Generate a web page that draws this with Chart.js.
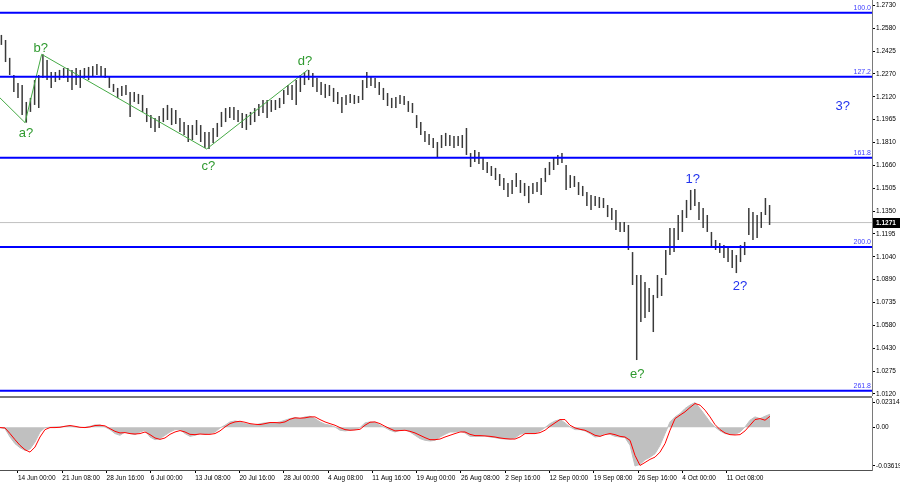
<!DOCTYPE html>
<html>
<head>
<meta charset="utf-8">
<script src="https://cdn.jsdelivr.net/npm/chart.js@4.4.1/dist/chart.umd.min.js"></script>
<style>
  body { margin: 0; background: #fff; }
  #wrap { position: relative; width: 900px; height: 485px; overflow: hidden; background: #fff; }
  #priceCanvas { position: absolute; left: 0; top: 0; }
  #oscCanvas { position: absolute; left: 0; top: 396px; }
</style>
</head>
<body>
<div id="wrap">
  <canvas id="priceCanvas" width="900" height="396"></canvas>
  <canvas id="oscCanvas" width="900" height="89"></canvas>
</div>
<script>
// GBP/USD H4 - wave count chart with oscillator pane

const FONT = "'Liberation Sans', Arial, sans-serif";

// axis labels
const priceTickLabels = ['1.2730', '1.2580', '1.2425', '1.2270', '1.2120', '1.1965', '1.1810', '1.1660', '1.1505',
    '1.1350', '1.1195', '1.1040', '1.0890', '1.0735', '1.0580', '1.0430', '1.0275', '1.0120'];
const dateLabels = ['14 Jun 00:00', '21 Jun 08:00', '28 Jun 16:00', '6 Jul 00:00', '13 Jul 08:00', '20 Jul 16:00',
    '28 Jul 00:00', '4 Aug 08:00', '11 Aug 16:00', '19 Aug 00:00', '26 Aug 08:00', '2 Sep 16:00', '12 Sep 00:00',
    '19 Sep 08:00', '26 Sep 16:00', '4 Oct 00:00', '11 Oct 08:00'];
const oscTickValues = [0.02314, 0, -0.03619];
const oscTickLabels = ['0.02314', '0.00', '-0.03619'];

// price bars (each drawn bar = 3 H4 bars): high / low
const candleHigh = [
    1.2531, 1.2497, 1.2377, 1.2262, 1.2208, 1.2195, 1.2081, 1.2108, 1.2228, 1.2262,
    1.2401, 1.2363, 1.2282, 1.2282, 1.2296, 1.2309, 1.2309, 1.2296, 1.2309, 1.2296,
    1.2309, 1.2316, 1.2322, 1.2336, 1.2322, 1.2309, 1.2249, 1.2202, 1.2175, 1.2188,
    1.2195, 1.2148, 1.2148, 1.2135, 1.2128, 1.2040, 1.1993, 1.1973, 1.1987, 1.2040,
    1.2061, 1.2040, 1.2027, 1.1973, 1.1946, 1.1926, 1.1926, 1.1960, 1.1926, 1.1879,
    1.1879, 1.1906, 1.1940, 1.2014, 1.2040, 1.2047, 1.2047, 1.2027, 1.2007, 1.2000,
    1.2014, 1.2040, 1.2067, 1.2094, 1.2094, 1.2094, 1.2094, 1.2108, 1.2161, 1.2195,
    1.2195, 1.2228, 1.2262, 1.2282, 1.2296, 1.2275, 1.2242, 1.2215, 1.2202, 1.2195,
    1.2175, 1.2148, 1.2114, 1.2128, 1.2135, 1.2128, 1.2121, 1.2228, 1.2282, 1.2255,
    1.2242, 1.2215, 1.2175, 1.2141, 1.2108, 1.2114, 1.2128, 1.2121, 1.2087, 1.2074,
    1.1993, 1.1946, 1.1886, 1.1866, 1.1839, 1.1812, 1.1859, 1.1873, 1.1859, 1.1852,
    1.1852, 1.1859, 1.1906, 1.1738, 1.1758, 1.1745, 1.1705, 1.1678, 1.1651, 1.1638,
    1.1597, 1.1570, 1.1537, 1.1557, 1.1604, 1.1557, 1.1537, 1.1517, 1.1537, 1.1543,
    1.1570, 1.1638, 1.1678, 1.1705, 1.1725, 1.1738, 1.1658, 1.1590, 1.1584, 1.1543,
    1.1517, 1.1476, 1.1456, 1.1449, 1.1443, 1.1436, 1.1389, 1.1369, 1.1355, 1.1275,
    1.1275, 1.1255, 1.1073, 1.0919, 1.0919, 1.0872, 1.0832, 1.0785, 1.0919, 1.0899,
    1.1087, 1.1235, 1.1235, 1.1322, 1.1355, 1.1423, 1.1490, 1.1496, 1.1409, 1.1369,
    1.1322, 1.1208, 1.1154, 1.1134, 1.1120, 1.1107, 1.1087, 1.1053, 1.1120, 1.1141,
    1.1369, 1.1342, 1.1322, 1.1342, 1.1436, 1.1389
];
const candleLow = [
    1.2464, 1.2349, 1.2262, 1.2148, 1.2107, 1.1993, 1.1942, 1.2014, 1.2061, 1.2040,
    1.2242, 1.2228, 1.2175, 1.2215, 1.2228, 1.2242, 1.2215, 1.2161, 1.2195, 1.2175,
    1.2242, 1.2228, 1.2255, 1.2262, 1.2255, 1.2242, 1.2175, 1.2148, 1.2108, 1.2121,
    1.2128, 1.1980, 1.2081, 1.2067, 1.2014, 1.1946, 1.1906, 1.1879, 1.1906, 1.1946,
    1.1960, 1.1926, 1.1933, 1.1879, 1.1859, 1.1812, 1.1825, 1.1859, 1.1812, 1.1772,
    1.1765, 1.1805, 1.1846, 1.1913, 1.1946, 1.1973, 1.1960, 1.1946, 1.1906, 1.1893,
    1.1926, 1.1946, 1.1987, 1.2007, 1.1973, 1.2014, 1.2027, 1.2040, 1.2067, 1.2128,
    1.2094, 1.2061, 1.2148, 1.2195, 1.2228, 1.2181, 1.2148, 1.2128, 1.2108, 1.2121,
    1.2081, 1.2067, 1.2007, 1.2061, 1.2074, 1.2067, 1.2074, 1.2094, 1.2175, 1.2188,
    1.2175, 1.2128, 1.2094, 1.2054, 1.2040, 1.2040, 1.2067, 1.2061, 1.2014, 1.2007,
    1.1906, 1.1859, 1.1812, 1.1792, 1.1772, 1.1711, 1.1772, 1.1785, 1.1785, 1.1772,
    1.1785, 1.1772, 1.1725, 1.1644, 1.1678, 1.1665, 1.1624, 1.1604, 1.1584, 1.1557,
    1.1517, 1.1490, 1.1443, 1.1463, 1.1510, 1.1470, 1.1449, 1.1402, 1.1463, 1.1476,
    1.1456, 1.1543, 1.1590, 1.1624, 1.1658, 1.1671, 1.1490, 1.1503, 1.1510, 1.1456,
    1.1449, 1.1382, 1.1355, 1.1382, 1.1369, 1.1369, 1.1308, 1.1288, 1.1221, 1.1208,
    1.1208, 1.1087, 1.0852, 1.0348, 1.0603, 1.0630, 1.0671, 1.0536, 1.0764, 1.0778,
    1.0919, 1.1053, 1.1073, 1.1154, 1.1208, 1.1302, 1.1355, 1.1382, 1.1288, 1.1235,
    1.1208, 1.1107, 1.1087, 1.1067, 1.1033, 1.1006, 1.0966, 1.0932, 1.1006, 1.1053,
    1.1188, 1.1154, 1.1168, 1.1235, 1.1322, 1.1255
];

// fibonacci levels
const fibLevels = [1.2680, 1.2251, 1.1707, 1.1107, 1.0142];
const fibLabels = ['100.0', '127.2', '161.8', '200.0', '261.8'];

// green wave path (bar index / price)
const wavePathIdx = [0, 18.1, 30.1, 149.3, 222.3];
const wavePathPrice = [1.2108, 1.1942, 1.2401, 1.1765, 1.2296];

// wave tags
const waveTags = ['a?', 'b?', 'c?', 'd?', 'e?', '1?', '2?', '3?'];
const waveTagIdx = [18.8, 29.4, 150.5, 220.4, 460.4, 500.5, 534.6, 608.8];
const waveTagPrice = [1.1870, 1.2441, 1.1646, 1.2356, 1.0254, 1.1562, 1.0845, 1.2049];

const lastPrice = 1.1271;

// oscillator (sampled every OSC_STEP bars)
const oscHist = [
    -0.0003, -0.0013, -0.0091, -0.0153, -0.0191, -0.0216, -0.0203, -0.0138, -0.0044, -0.0003,
    0, 0.0003, 0.0003, 0.0009, 0.0013, 0.0003, -0.0003, 0, 0.0009, 0.0022,
    0.0022, 0.0003, -0.0022, -0.0059, -0.0075, -0.0044, -0.0059, -0.0069, -0.0044, -0.0028,
    -0.0091, -0.0116, -0.0106, -0.0075, -0.0044, -0.0022, -0.0022, -0.0059, -0.0085, -0.0075,
    -0.0059, -0.0066, -0.0059, -0.0044, -0.0006, 0.0019, 0.0050, 0.0059, 0.0050, 0.0034,
    0.0028, 0.0019, 0.0034, 0.0041, 0.0044, 0.0041, 0.0050, 0.0066, 0.0081, 0.0091,
    0.0081, 0.0097, 0.0103, 0.0081, 0.0050, 0.0028, 0.0019, 0.0003, -0.0028, -0.0034,
    -0.0028, -0.0022, -0.0003, 0.0041, 0.0050, 0.0047, 0.0019, -0.0003, -0.0028, -0.0044,
    -0.0028, -0.0022, -0.0044, -0.0075, -0.0106, -0.0122, -0.0128, -0.0122, -0.0091, -0.0066,
    -0.0044, -0.0044, -0.0034, -0.0053, -0.0085, -0.0085, -0.0085, -0.0081, -0.0091, -0.0097,
    -0.0106, -0.0110, -0.0110, -0.0100, -0.0066, -0.0053, -0.0059, -0.0053, -0.0034, -0.0003,
    0.0034, 0.0059, 0.0072, 0.0041, 0.0003, -0.0022, -0.0022, -0.0034, -0.0059, -0.0091,
    -0.0085, -0.0059, -0.0066, -0.0085, -0.0091, -0.0097, -0.0169, -0.0362, -0.0347, -0.0304,
    -0.0279, -0.0247, -0.0169, -0.0059, 0.0050, 0.0097, 0.0128, 0.0175, 0.0207, 0.0231,
    0.0175, 0.0113, 0.0050, 0.0003, -0.0034, -0.0059, -0.0066, -0.0066, -0.0044, 0.0003,
    0.0066, 0.0097, 0.0081, 0.0103, 0.0122
];
const oscSignal = [
    -0.0003, -0.0006, -0.0059, -0.0116, -0.0169, -0.0210, -0.0232, -0.0185, -0.0091, -0.0022,
    -0.0003, -0.0003, 0, 0.0009, 0.0016, 0.0009, 0, -0.0003, 0.0003, 0.0016,
    0.0019, 0.0013, -0.0013, -0.0038, -0.0053, -0.0050, -0.0059, -0.0063, -0.0059, -0.0044,
    -0.0069, -0.0100, -0.0113, -0.0100, -0.0066, -0.0044, -0.0031, -0.0044, -0.0066, -0.0069,
    -0.0063, -0.0066, -0.0066, -0.0059, -0.0034, 0.0003, 0.0034, 0.0050, 0.0056, 0.0047,
    0.0034, 0.0028, 0.0025, 0.0034, 0.0044, 0.0044, 0.0041, 0.0050, 0.0075, 0.0088,
    0.0085, 0.0088, 0.0097, 0.0097, 0.0072, 0.0050, 0.0034, 0.0019, -0.0003, -0.0022,
    -0.0028, -0.0025, -0.0019, 0.0019, 0.0047, 0.0050, 0.0034, 0.0009, -0.0013, -0.0034,
    -0.0031, -0.0028, -0.0038, -0.0053, -0.0075, -0.0097, -0.0116, -0.0116, -0.0110, -0.0091,
    -0.0075, -0.0059, -0.0044, -0.0044, -0.0066, -0.0078, -0.0078, -0.0081, -0.0085, -0.0091,
    -0.0100, -0.0106, -0.0110, -0.0110, -0.0091, -0.0059, -0.0059, -0.0059, -0.0050, -0.0028,
    0.0009, 0.0041, 0.0072, 0.0072, 0.0019, -0.0006, -0.0019, -0.0028, -0.0050, -0.0075,
    -0.0085, -0.0069, -0.0059, -0.0069, -0.0085, -0.0091, -0.0122, -0.0263, -0.0357, -0.0329,
    -0.0300, -0.0279, -0.0232, -0.0153, -0.0028, 0.0081, 0.0113, 0.0144, 0.0185, 0.0222,
    0.0207, 0.0160, 0.0097, 0.0025, -0.0022, -0.0053, -0.0069, -0.0072, -0.0069, -0.0034,
    0.0019, 0.0072, 0.0081, 0.0066, 0.0103
];

// scale setup
const BARS_ON_SCREEN = 630;
const BARS_PER_CANDLE = 3;
const BARS_PER_DATE = 32;
const FIRST_DATE_BAR = 13;
const OSC_STEP = 3.6125;
const PRICE_MIN = 1.01065, PRICE_MAX = 1.27656;
const PRICE_TICK_TOP = 1.2730, PRICE_TICK_STEP = (1.2730 - 1.0120) / 17;
const OSC_MIN = -0.03993, OSC_MAX = 0.02735;
const AXIS_WIDTH = 28;

const BLUE = '#0000ff';
const WAVE_GREEN = '#2f9a2f';
const WAVE_BLUE = '#2233ee';
const AXIS_GRAY = '#7a7a7a';

const tickFont = { family: FONT, size: 6.5 };

function rightAxis(extra) {
    return Object.assign({
        position: 'right',
        grid: { drawOnChartArea: false, drawTicks: true, tickLength: 3, color: '#000' },
        border: { display: true, color: AXIS_GRAY },
        ticks: { font: tickFont, color: '#000', padding: 1 },
        afterFit(scale) {
            scale.width = AXIS_WIDTH;
            scale.paddingTop = 0;
            scale.paddingBottom = 0;
        }
    }, extra);
}

// overlay: fib labels, wave tags, price box
const mainOverlay = {
    id: 'mainOverlay',
    afterDatasetsDraw(chart) {
        const { ctx, chartArea, scales: { x, y } } = chart;
        ctx.save();
        ctx.font = `7px ${FONT}`;
        ctx.fillStyle = '#3c3cff';
        ctx.textAlign = 'right';
        ctx.textBaseline = 'bottom';
        fibLevels.forEach((lv, i) => {
            ctx.fillText(fibLabels[i], chartArea.right - 1, y.getPixelForValue(lv) - 1);
        });
        ctx.font = `13px ${FONT}`;
        ctx.textAlign = 'center';
        ctx.textBaseline = 'middle';
        waveTags.forEach((t, i) => {
            ctx.fillStyle = /\d/.test(t) ? WAVE_BLUE : WAVE_GREEN;
            ctx.fillText(t, x.getPixelForValue(waveTagIdx[i]), y.getPixelForValue(waveTagPrice[i]));
        });
        ctx.restore();
    },
    afterDraw(chart) {
        const { ctx, chartArea, scales: { y } } = chart;
        const py = Math.round(y.getPixelForValue(lastPrice));
        ctx.save();
        ctx.fillStyle = '#000';
        ctx.fillRect(chartArea.right + 1, py - 5, AXIS_WIDTH - 1, 10);
        ctx.fillStyle = '#fff';
        ctx.font = `bold 6.5px ${FONT}`;
        ctx.textAlign = 'left';
        ctx.textBaseline = 'middle';
        ctx.fillText(lastPrice.toFixed(4), chartArea.right + 4, py + 0.5);
        ctx.restore();
    }
};

// separator line between panes
const paneSeparator = {
    id: 'paneSeparator',
    afterDraw(chart) {
        const { ctx, chartArea } = chart;
        ctx.save();
        ctx.fillStyle = AXIS_GRAY;
        ctx.fillRect(0, chartArea.top - 2, chartArea.right, 2);
        ctx.restore();
    }
};

const fibDatasets = fibLevels.map((lv) => ({
    type: 'line',
    data: [{ x: 0, y: lv }, { x: BARS_ON_SCREEN, y: lv }],
    borderColor: BLUE,
    borderWidth: 2,
    pointRadius: 0,
    order: 1
}));

new Chart(document.getElementById('priceCanvas'), {
    type: 'bar',
    data: {
        datasets: [
            ...fibDatasets,
            {
                type: 'line',
                data: wavePathIdx.map((x, i) => ({ x, y: wavePathPrice[i] })),
                borderColor: '#45aa45',
                borderWidth: 1,
                pointRadius: 0,
                order: 2
            },
            {
                type: 'line',
                data: [{ x: 0, y: lastPrice }, { x: BARS_ON_SCREEN, y: lastPrice }],
                borderColor: '#c0c0c0',
                borderWidth: 1,
                pointRadius: 0,
                order: 4
            },
            {
                type: 'bar',
                data: candleHigh.map((h, i) => ({ x: i * BARS_PER_CANDLE + 1, y: [candleLow[i], h] })),
                backgroundColor: '#3a3a3a',
                barThickness: 1.5,
                inflateAmount: 0,
                order: 3
            }
        ]
    },
    options: {
        responsive: false,
        animation: false,
        devicePixelRatio: 1,
        events: [],
        layout: { padding: 0, autoPadding: false },
        plugins: { legend: { display: false }, tooltip: { enabled: false } },
        scales: {
            x: { type: 'linear', display: false, min: 0, max: BARS_ON_SCREEN, offset: false, grid: { offset: false } },
            y: rightAxis({
                type: 'linear',
                min: PRICE_MIN,
                max: PRICE_MAX,
                bounds: 'data',
                afterBuildTicks(scale) {
                    scale.ticks = priceTickLabels.map((_, i) => ({ value: PRICE_TICK_TOP - i * PRICE_TICK_STEP }));
                },
                ticks: { font: tickFont, color: '#000', padding: 1, callback: (v, i) => priceTickLabels[i] }
            })
        }
    },
    plugins: [mainOverlay]
});

new Chart(document.getElementById('oscCanvas'), {
    type: 'line',
    data: {
        datasets: [
            {
                data: oscSignal.map((v, i) => ({ x: i * OSC_STEP, y: v })),
                borderColor: '#ff0000',
                borderWidth: 1,
                pointRadius: 0,
                fill: false,
                order: 0
            },
            {
                data: oscHist.map((v, i) => ({ x: i * OSC_STEP, y: v })),
                borderColor: '#c0c0c0',
                backgroundColor: '#c0c0c0',
                borderWidth: 1,
                pointRadius: 0,
                fill: 'origin',
                order: 1
            }
        ]
    },
    options: {
        responsive: false,
        animation: false,
        devicePixelRatio: 1,
        events: [],
        layout: { padding: { top: 2, left: 0, right: 0, bottom: 0 }, autoPadding: false },
        plugins: { legend: { display: false }, tooltip: { enabled: false } },
        scales: {
            x: {
                type: 'linear',
                min: 0,
                max: BARS_ON_SCREEN,
                offset: false,
                bounds: 'data',
                grid: { drawOnChartArea: false, drawTicks: true, tickLength: 3, color: '#000', offset: false },
                border: { display: true, color: '#505050' },
                afterBuildTicks(scale) {
                    scale.ticks = dateLabels.map((_, k) => ({ value: FIRST_DATE_BAR + k * BARS_PER_DATE }));
                },
                ticks: {
                    font: tickFont,
                    color: '#000',
                    padding: 1,
                    align: 'start',
                    autoSkip: false,
                    maxRotation: 0,
                    minRotation: 0,
                    callback: (v, i) => dateLabels[i]
                },
                afterFit(scale) {
                    scale.height = 15;
                    scale.paddingLeft = 0;
                    scale.paddingRight = 0;
                }
            },
            y: rightAxis({
                type: 'linear',
                min: OSC_MIN,
                max: OSC_MAX,
                bounds: 'data',
                afterBuildTicks(scale) {
                    scale.ticks = oscTickValues.map((v) => ({ value: v }));
                },
                ticks: { font: tickFont, color: '#000', padding: 1, callback: (v, i) => oscTickLabels[i] }
            })
        }
    },
    plugins: [paneSeparator]
});
</script>
</body>
</html>
